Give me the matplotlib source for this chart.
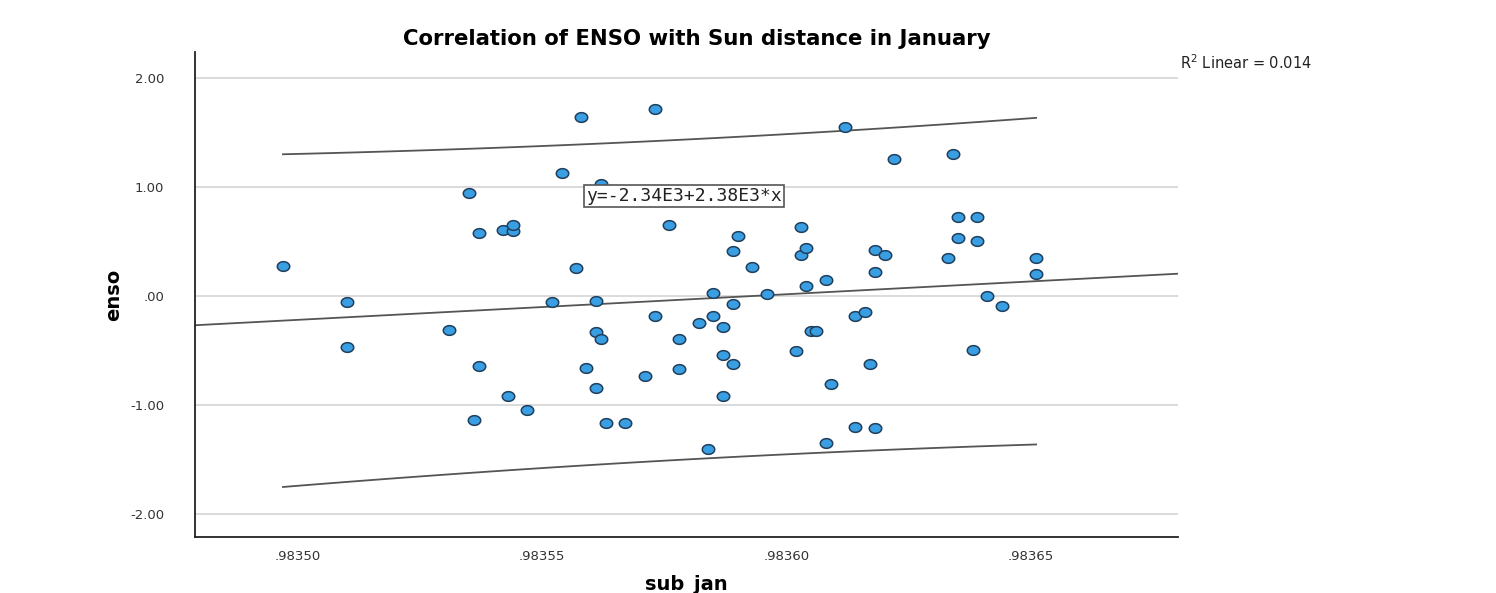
import numpy as np
import matplotlib
matplotlib.use("Agg")
import matplotlib.pyplot as plt
from matplotlib.path import Path

# =========================
# DATA
# =========================
# sun distance in January (x) and ENSO index (y)
SUB_JAN = [
    0.983497, 0.983510, 0.983510, 0.983531, 0.983535, 0.983537, 0.983537, 0.983536,
    0.983542, 0.983544, 0.983544, 0.983543, 0.983547, 0.983552, 0.983554, 0.983557,
    0.983558, 0.983559, 0.983561, 0.983561, 0.983562, 0.983561, 0.983562, 0.983563,
    0.983567, 0.983571, 0.983573, 0.983573, 0.983576, 0.983578, 0.983578, 0.983582,
    0.983584, 0.983585, 0.983585, 0.983587, 0.983587, 0.983587, 0.983589, 0.983589,
    0.983589, 0.983590, 0.983593, 0.983596, 0.983602, 0.983603, 0.983603, 0.983604,
    0.983604, 0.983605, 0.983606, 0.983608, 0.983608, 0.983609, 0.983612, 0.983614,
    0.983614, 0.983616, 0.983617, 0.983618, 0.983618, 0.983618, 0.983620, 0.983622,
    0.983633, 0.983634, 0.983635, 0.983635, 0.983638, 0.983639, 0.983639, 0.983641,
    0.983644, 0.983651, 0.983651,
]
ENSO = [
    0.28, -0.05, -0.47, -0.31, 0.95, 0.58, -0.64, -1.14,
    0.61, 0.60, 0.65, -0.92, -1.04, -0.05, 1.13, 0.26,
    1.64, -0.66, -0.04, -0.33, -0.39, -0.84, 1.03, -1.16,
    -1.16, -0.73, -0.18, 1.72, 0.65, -0.67, -0.39, -0.25,
    -1.40, 0.03, -0.18, -0.28, -0.54, -0.92, -0.07, -0.62,
    0.41, 0.55, 0.27, 0.02, -0.50, 0.63, 0.38, 0.44,
    0.09, -0.32, -0.32, 0.15, -1.35, -0.81, 1.55, -0.18,
    -1.20, -0.15, -0.62, -1.21, 0.42, 0.22, 0.38, 1.26,
    0.35, 1.30, 0.73, 0.53, -0.49, 0.51, 0.73, 0.00,
    -0.09, 0.35, 0.20,
]

X_TICKS = [0.98350, 0.98355, 0.98360, 0.98365]
X_TICK_LABELS = [".98350", ".98355", ".98360", ".98365"]
Y_TICKS = [2.0, 1.0, 0.0, -1.0, -2.0]
Y_TICK_LABELS = ["2.00", "1.00", ".00", "-1.00", "-2.00"]

EQUATION = "y=-2.34E3+2.38E3*x"
R2_TEXT = "R$^2$ Linear = 0.014"
T_95 = 1.993  # t(0.975, df=73)

x = np.array(SUB_JAN)
y = np.array(ENSO)

# =========================
# FIT + 95% individual prediction interval
# =========================
xc = x - x.mean()
slope, intercept = np.polyfit(xc, y, 1)
resid = y - (intercept + slope * xc)
n = len(x)
s = np.sqrt(np.sum(resid ** 2) / (n - 2))
sxx = np.sum(xc ** 2)

xlim = (0.983479, 0.983680)
fit_x = np.linspace(xlim[0], xlim[1], 50)
fit_y = intercept + slope * (fit_x - x.mean())

pi_x = np.linspace(x.min(), x.max(), 50)
pi_c = intercept + slope * (pi_x - x.mean())
half = T_95 * s * np.sqrt(1 + 1 / n + (pi_x - x.mean()) ** 2 / sxx)

# ellipse marker, a bit wider than tall
t = np.linspace(0, 2 * np.pi, 40)
ellipse = Path(np.column_stack([np.cos(t), 0.78 * np.sin(t)]), closed=True)

# =========================
# PLOT
# =========================
fig = plt.figure(figsize=(14.96, 5.93), dpi=100)
ax = fig.add_axes([0.1303, 0.0944, 0.6571, 0.8179])

for yt in Y_TICKS:
    ax.axhline(yt, color="#d4d4d4", lw=1.2, zorder=0)

ax.plot(fit_x, fit_y, color="#555555", lw=1.3, zorder=2)
ax.plot(pi_x, pi_c + half, color="#555555", lw=1.3, zorder=2)
ax.plot(pi_x, pi_c - half, color="#555555", lw=1.3, zorder=2)

ax.scatter(x, y, marker=ellipse, s=80, facecolor="#3a9ee2", edgecolor="#1f3f5c",
           linewidth=1.1, zorder=3)

ax.text(0.983579, 0.92, EQUATION, family="DejaVu Sans Mono", fontsize=13,
        ha="center", va="center", color="#222222", zorder=4,
        bbox=dict(boxstyle="square,pad=0.12", facecolor="white", edgecolor="#555555", lw=1.2))

ax.set_xlim(*xlim)
ax.set_ylim(-2.21, 2.24)
ax.set_xticks(X_TICKS)
ax.set_xticklabels(X_TICK_LABELS)
ax.set_yticks(Y_TICKS)
ax.set_yticklabels(Y_TICK_LABELS)
ax.tick_params(length=0, labelsize=9.5, labelcolor="#333333")
ax.tick_params(axis="y", pad=22)
ax.tick_params(axis="x", pad=9)

for side in ["top", "right"]:
    ax.spines[side].set_visible(False)
for side in ["left", "bottom"]:
    ax.spines[side].set_color("#222222")
    ax.spines[side].set_linewidth(1.3)

ax.set_title("Correlation of ENSO with Sun distance in January", fontsize=15.3,
             fontweight="bold", pad=5, x=0.511)
ax.set_xlabel("sub_jan", fontsize=14, fontweight="bold", labelpad=9)
ax.set_ylabel("enso", fontsize=14, fontweight="bold", labelpad=5)

fig.text(1180 / 1496, 1 - 63 / 593, R2_TEXT, fontsize=10.5, va="center", ha="left", color="#222222")

r2 = 1 - np.sum(resid ** 2) / np.sum((y - y.mean()) ** 2)
print("slope", slope, "r2", r2, "s", s)

fig.savefig("out.png", dpi=100)
